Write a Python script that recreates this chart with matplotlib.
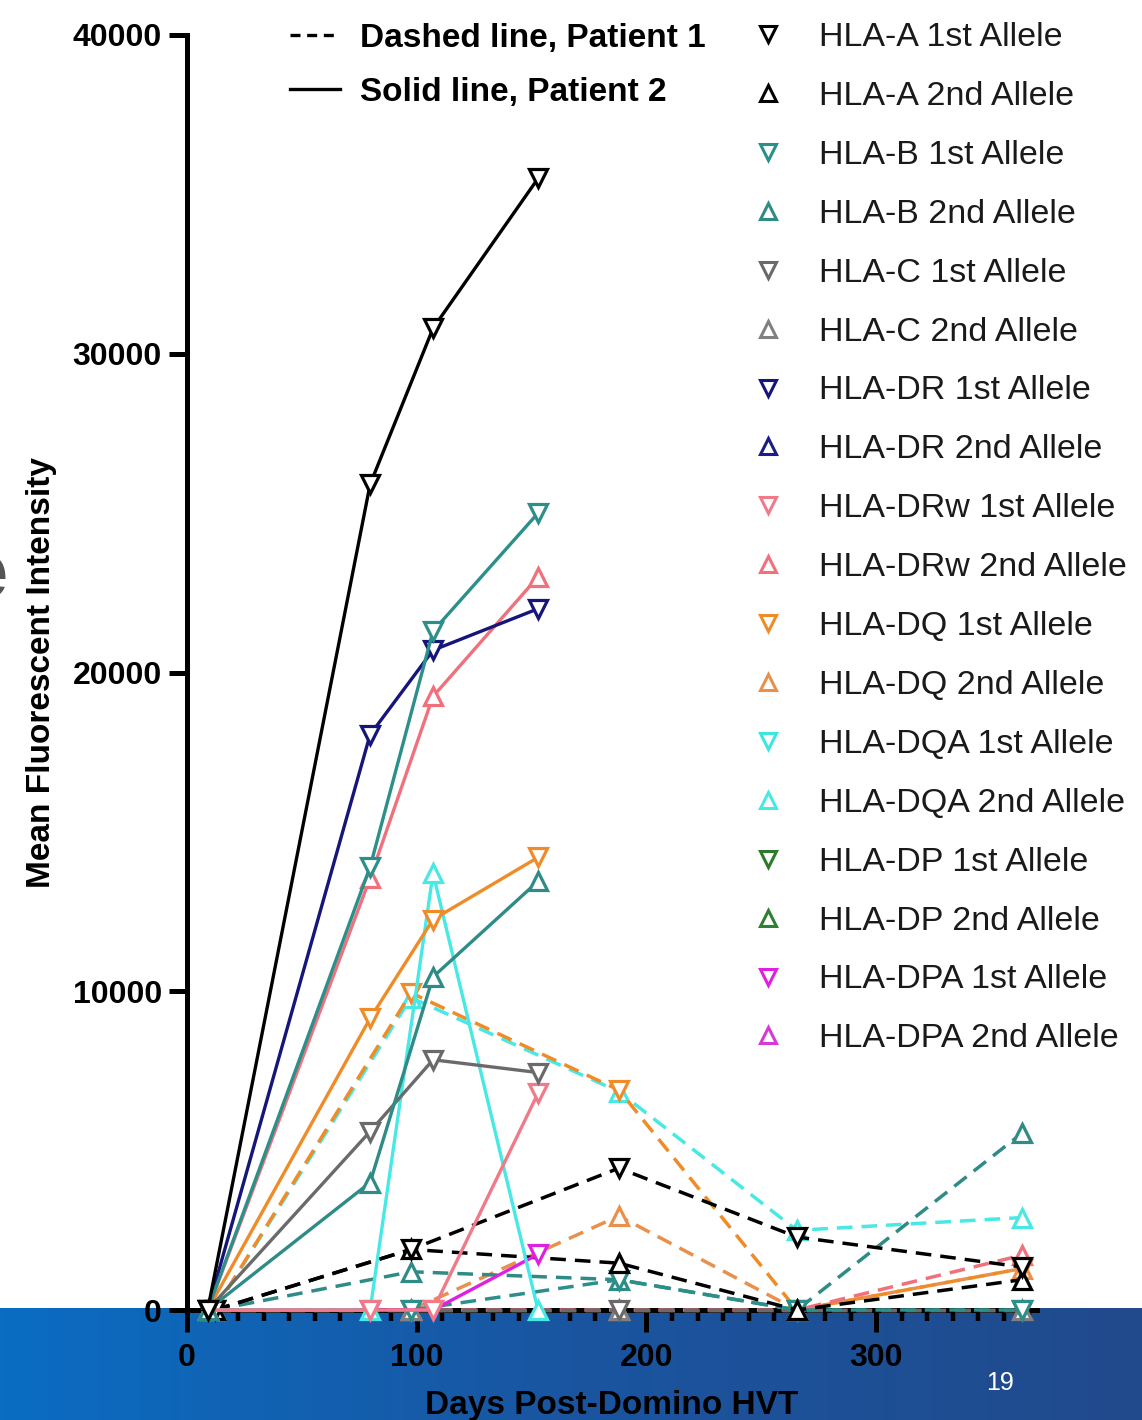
import numpy as np
import matplotlib
matplotlib.use('Agg')
import matplotlib.pyplot as plt
from matplotlib.lines import Line2D
from matplotlib.ticker import MultipleLocator, AutoMinorLocator
from matplotlib.colors import LinearSegmentedColormap

plt.rcParams['font.family'] = ['Liberation Sans', 'DejaVu Sans']

alleles = [
    'HLA-A 1st Allele', 'HLA-A 2nd Allele',
    'HLA-B 1st Allele', 'HLA-B 2nd Allele',
    'HLA-C 1st Allele', 'HLA-C 2nd Allele',
    'HLA-DR 1st Allele', 'HLA-DR 2nd Allele',
    'HLA-DRw 1st Allele', 'HLA-DRw 2nd Allele',
    'HLA-DQ 1st Allele', 'HLA-DQ 2nd Allele',
    'HLA-DQA 1st Allele', 'HLA-DQA 2nd Allele',
    'HLA-DP 1st Allele', 'HLA-DP 2nd Allele',
    'HLA-DPA 1st Allele', 'HLA-DPA 2nd Allele',
]
colors = [
    '#000000', '#000000',
    '#2b8f8a', '#2e8b86',
    '#6a6a6a', '#808080',
    '#15157a', '#1c1c85',
    '#f07a88', '#f0707c',
    '#f08c28', '#e8904c',
    '#3ae8e0', '#48e8e4',
    '#2d7a2d', '#2f7f35',
    '#e020e0', '#d838d8',
]
markers = ['v', '^'] * 9

# Patient 1 (dashed) sampling days and MFI per allele, None = not plotted
days_p1 = [12, 97.5, 188, 265.5, 363.5]
p1_mfi = [
    [0, 1900, 4450, 2290, 1350],   # A 1st
    [0, 1900, 1470, 0, 950],       # A 2nd
    [0, 0, 950, 0, 0],             # B 1st
    [0, 1200, 950, 0, 5550],       # B 2nd
    [0, 0, 0, 0, 0],               # C 1st
    [0, 0, 0, 0, 0],               # C 2nd
    None,                          # DR 1st
    None,                          # DR 2nd
    None,                          # DRw 1st
    [0, 0, 0, 0, 1720],            # DRw 2nd
    [0, 9950, 6900, 0, 1300],      # DQ 1st
    [0, 0, 2950, 0, 1300],         # DQ 2nd
    None,                          # DQA 1st
    [0, 9800, 6850, 2500, 2900],   # DQA 2nd
    None,                          # DP 1st
    None,                          # DP 2nd
    None,                          # DPA 1st
    None,                          # DPA 2nd
]

# Patient 2 (solid)
days_p2 = [9, 79.7, 107.1, 152.8]
p2_mfi = [
    [0, 25900, 30800, 35500],      # A 1st
    None,                          # A 2nd
    [0, 13900, 21300, 25000],      # B 1st
    [0, 4000, 10450, 13450],       # B 2nd
    [0, 5600, 7850, 7450],         # C 1st
    None,                          # C 2nd
    [0, 18050, 20700, 22000],      # DR 1st
    None,                          # DR 2nd
    [0, 0, 0, 6800],               # DRw 1st
    [0, 13550, 19250, 23000],      # DRw 2nd
    [0, 9150, 12250, 14200],       # DQ 1st
    None,                          # DQ 2nd
    None,                          # DQA 1st
    [0, 0, 13700, 0],              # DQA 2nd
    None,                          # DP 1st
    None,                          # DP 2nd
    [0, 0, 0, 1750],               # DPA 1st
    None,                          # DPA 2nd
]

W, H = 1142, 1420
fig = plt.figure(figsize=(W / 100, H / 100), dpi=100)

# slide footer band
band = fig.add_axes([0, 0, 1, 112 / H], zorder=0)
cmap = LinearSegmentedColormap.from_list('band', ['#0a6dc2', '#1a55a0', '#214a8c'])
band.imshow(np.linspace(0, 1, 256)[None, :], aspect='auto', cmap=cmap, extent=[0, 1, 0, 1])
band.axis('off')

ax = fig.add_axes([187 / W, 110 / H, 850 / W, 1275 / H], zorder=1)
ax.patch.set_alpha(0)

# later alleles first so HLA-A ends up on top
for i in reversed(range(len(alleles))):
    if p1_mfi[i] is None:
        continue
    ax.plot(days_p1, p1_mfi[i], color=colors[i], ls=(0, (4.5, 2.6)), lw=2.5,
            marker=markers[i], ms=13, mew=2.3, mfc='white', clip_on=False, zorder=3)
for i in reversed(range(len(alleles))):
    if p2_mfi[i] is None:
        continue
    ax.plot(days_p2, p2_mfi[i], color=colors[i], ls='-', lw=2.4,
            marker=markers[i], ms=13, mew=2.3, mfc='white', clip_on=False, zorder=3)

ax.set_xlim(0, 370)
ax.set_ylim(0, 40000)
ax.xaxis.set_major_locator(MultipleLocator(100))
ax.xaxis.set_minor_locator(AutoMinorLocator(9))
ax.yaxis.set_major_locator(MultipleLocator(10000))

for s in ['top', 'right']:
    ax.spines[s].set_visible(False)
for s in ['left', 'bottom']:
    ax.spines[s].set_linewidth(3.6)

ax.tick_params(axis='x', which='major', length=16, width=3.6, pad=8, labelsize=23)
ax.tick_params(axis='x', which='minor', length=8, width=3.2)
ax.tick_params(axis='y', which='major', length=13, width=3.6, pad=5, labelsize=23)
for lab in ax.get_xticklabels() + ax.get_yticklabels():
    lab.set_fontweight('bold')

ax.set_ylabel('Mean Fluorescent Intensity', fontsize=24, fontweight='bold')
ax.yaxis.set_label_coords(-0.153, 0.5)
ax.set_xlabel('Days Post-Domino HVT', fontsize=24, fontweight='bold')
ax.xaxis.set_label_coords(0.5, -0.063)

# patient legend
pat_handles = [
    Line2D([], [], color='black', lw=2.4, ls=(0, (3, 2))),
    Line2D([], [], color='black', lw=2.4, ls='-'),
]
fig.legend(pat_handles, ['Dashed line, Patient 1', 'Solid line, Patient 2'],
           loc='upper left', bbox_to_anchor=(290 / W, 1 - 23 / H),
           frameon=False, borderpad=0, borderaxespad=0,
           handlelength=1.5, handletextpad=0.6, labelspacing=0.68,
           prop={'size': 24, 'weight': 'bold'})

# allele legend
al_handles = [Line2D([], [], ls='none', marker=markers[i], color=colors[i],
                     ms=12, mew=2.2, mfc='white') for i in range(len(alleles))]
leg2 = fig.legend(al_handles, alleles, loc='upper left',
                  bbox_to_anchor=(751 / W, 1 - 22 / H), frameon=False,
                  borderpad=0, borderaxespad=0, handlelength=1.0,
                  handletextpad=1.0, labelspacing=0.82, numpoints=1,
                  prop={'size': 24.5})
for t in leg2.get_texts():
    t.set_color('#1a1a1a')

fig.text(1000 / W, 1 - 1383 / H, '19', color='white', fontsize=18,
         ha='center', va='center')
fig.text(8 / W, 1 - 577 / H, 'e', color='#555555', fontsize=56,
         fontweight='bold', ha='right', va='center')

fig.savefig('out.png', dpi=100)
